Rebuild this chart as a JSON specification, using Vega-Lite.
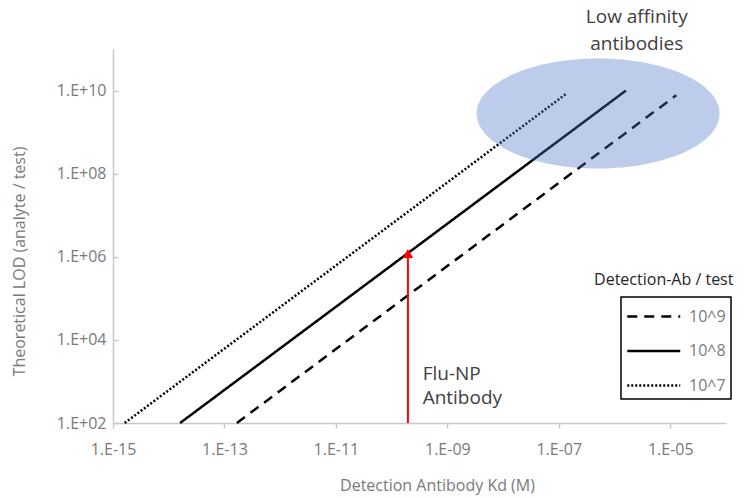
{
  "$schema": "https://vega.github.io/schema/vega-lite/v6.json",
  "width": 613,
  "height": 374,
  "autosize": {"type": "none"},
  "padding": {"left": 113, "top": 49, "right": 18, "bottom": 75},
  "background": "white",
  "config": {
    "view": {"stroke": null},
    "font": "Open Sans",
    "text": {"font": "Open Sans"}
  },
  "datasets": {
    "lines": [
      {"series": "10^9", "kd": 1.67e-13, "lod": 100},
      {"series": "10^9", "kd": 1.28e-5, "lod": 7.7e9},
      {"series": "10^8", "kd": 1.6e-14, "lod": 100},
      {"series": "10^8", "kd": 1.6e-6, "lod": 1.0e10},
      {"series": "10^7", "kd": 1.62e-15, "lod": 100},
      {"series": "10^7", "kd": 1.4e-7, "lod": 8.6e9}
    ],
    "arrow": [{"kd": 1.96e-10, "lod": 100, "lod2": 1.2e6}],
    "tip": [{"kd": 1.96e-10, "lod": 1.2e6}],
    "region": [{"kd": 5.07e-7, "lod": 2.8e9}],
    "topnote": [
      {"kd": 2.5e-6, "lod": 5.8e11, "text": "Low affinity"},
      {"kd": 2.5e-6, "lod": 1.35e11, "text": "antibodies"}
    ],
    "flunote": [
      {"kd": 3.6e-10, "lod": 1.55e3, "text": "Flu-NP"},
      {"kd": 3.6e-10, "lod": 3.9e2, "text": "Antibody"}
    ],
    "legtitle": [{"kd": 1.36e-4, "lod": 2.7e5, "text": "Detection-Ab / test"}]
  },
  "layer": [
    {
      "data": {"name": "lines"},
      "mark": {"type": "line", "color": "black", "strokeWidth": 2.5, "strokeCap": "butt"},
      "encoding": {
        "x": {
          "field": "kd", "type": "quantitative",
          "scale": {"type": "log", "domain": [1e-15, 1e-4], "nice": false},
          "axis": {
            "title": "Detection Antibody Kd (M)",
            "values": [1e-15, 1e-13, 1e-11, 1e-9, 1e-7, 1e-5],
            "labelExpr": "'1.E-' + format(-round(log(datum.value)/LN10), '02d')",
            "grid": false,
            "domainColor": "#c8c8c8", "domainWidth": 1.5,
            "tickColor": "#c8c8c8", "tickWidth": 1.5, "tickSize": 5,
            "labelFont": "Open Sans", "labelFontSize": 16, "labelColor": "#7a7a7a",
            "labelPadding": 13, "labelFlush": false,
            "titleFont": "Open Sans", "titleFontSize": 16, "titleFontWeight": "normal", "titleColor": "#7a7a7a",
            "titlePadding": 20, "titleX": 324
          }
        },
        "y": {
          "field": "lod", "type": "quantitative",
          "scale": {"type": "log", "domain": [100, 1e11], "nice": false},
          "axis": {
            "title": "Theoretical LOD (analyte / test)",
            "values": [100, 1e4, 1e6, 1e8, 1e10],
            "labelExpr": "'1.E+' + format(round(log(datum.value)/LN10), '02d')",
            "grid": false,
            "domainColor": "#c8c8c8", "domainWidth": 1.5,
            "tickColor": "#c8c8c8", "tickWidth": 1.5, "tickSize": -5,
            "labelFont": "Open Sans", "labelFontSize": 16, "labelColor": "#7a7a7a",
            "labelPadding": 12, "labelFlush": false,
            "titleFont": "Open Sans", "titleFontSize": 16, "titleFontWeight": "normal", "titleColor": "#7a7a7a",
            "titleX": -86, "titleY": 212
          }
        },
        "detail": {"field": "series"},
        "strokeDash": {
          "field": "series", "type": "nominal",
          "scale": {"domain": ["10^9", "10^8", "10^7"], "range": [[10, 7], [1, 0], [2, 2]]},
          "legend": {
            "title": null,
            "orient": "none",
            "legendX": 508,
            "legendY": 248,
            "strokeColor": "black",
            "padding": 5,
            "symbolType": "M-1,0 H3",
            "symbolSize": 702,
            "symbolStrokeWidth": 2.5,
            "symbolStrokeColor": "black",
            "symbolFillColor": "transparent",
            "labelFont": "Open Sans",
            "labelFontSize": 16,
            "labelColor": "#7a7a7a",
            "labelOffset": 34,
            "rowPadding": 11.5,
            "encode": {"legend": {"update": {"strokeWidth": {"value": 1.5}}}}
          }
        }
      }
    },
    {
      "data": {"name": "arrow"},
      "mark": {"type": "rule", "color": "#ff0000", "strokeWidth": 2},
      "encoding": {
        "x": {"field": "kd", "type": "quantitative"},
        "y": {"field": "lod", "type": "quantitative"},
        "y2": {"field": "lod2"}
      }
    },
    {
      "data": {"name": "tip"},
      "mark": {"type": "point", "shape": "triangle-up", "size": 110, "filled": true, "color": "#ff0000", "opacity": 1},
      "encoding": {
        "x": {"field": "kd", "type": "quantitative"},
        "y": {"field": "lod", "type": "quantitative"}
      }
    },
    {
      "data": {"name": "region"},
      "mark": {
        "type": "point",
        "shape": "M-1,0 C-1,-0.25 -0.5523,-0.4527 0,-0.4527 C0.5523,-0.4527 1,-0.25 1,0 C1,0.25 0.5523,0.4527 0,0.4527 C-0.5523,0.4527 -1,0.25 -1,0 Z",
        "size": 59049,
        "filled": true,
        "color": "#4472c4",
        "opacity": 0.36,
        "strokeWidth": 0
      },
      "encoding": {
        "x": {"field": "kd", "type": "quantitative"},
        "y": {"field": "lod", "type": "quantitative"}
      }
    },
    {
      "data": {"name": "topnote"},
      "mark": {"type": "text", "font": "Open Sans", "fontSize": 19, "color": "#404040", "align": "center", "baseline": "middle"},
      "encoding": {
        "x": {"field": "kd", "type": "quantitative"},
        "y": {"field": "lod", "type": "quantitative"},
        "text": {"field": "text"}
      }
    },
    {
      "data": {"name": "flunote"},
      "mark": {"type": "text", "font": "Open Sans", "fontSize": 19, "color": "#404040", "align": "left", "baseline": "middle"},
      "encoding": {
        "x": {"field": "kd", "type": "quantitative"},
        "y": {"field": "lod", "type": "quantitative"},
        "text": {"field": "text"}
      }
    },
    {
      "data": {"name": "legtitle"},
      "mark": {"type": "text", "font": "Open Sans", "fontSize": 16, "color": "#262626", "align": "right", "baseline": "middle"},
      "encoding": {
        "x": {"field": "kd", "type": "quantitative"},
        "y": {"field": "lod", "type": "quantitative"},
        "text": {"field": "text"}
      }
    }
  ]
}
